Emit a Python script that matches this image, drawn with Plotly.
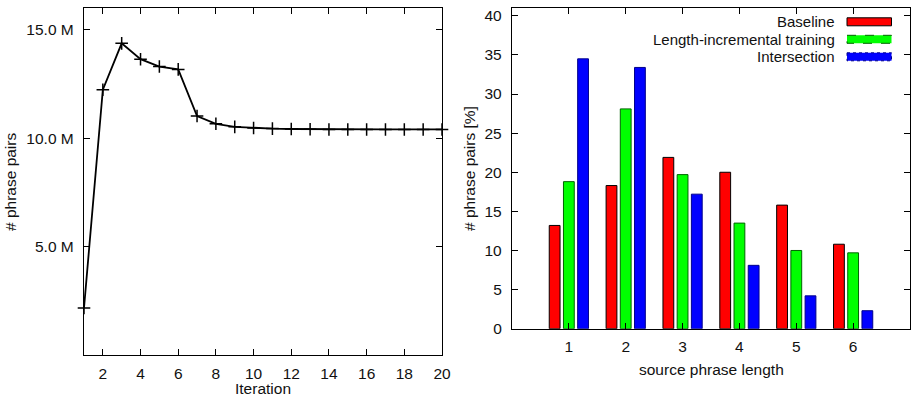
import plotly.graph_objects as go

W, H = 917, 398

# ---- data: left chart ----
iterations = list(range(1, 21))
phrase_pairs = [2.17e6, 12.23e6, 14.37e6, 13.64e6, 13.30e6, 13.17e6, 11.02e6, 10.66e6,
                10.52e6, 10.47e6, 10.44e6, 10.42e6, 10.41e6, 10.40e6, 10.40e6, 10.40e6,
                10.40e6, 10.40e6, 10.40e6, 10.40e6]
left_ytickvals = [5e6, 10e6, 15e6]
left_yticktext = ["5.0 M", "10.0 M", "15.0 M"]
left_xtickvals = list(range(2, 21, 2))

# ---- data: right chart ----
lengths = [1, 2, 3, 4, 5, 6]
series_names = ["Baseline", "Length-incremental training", "Intersection"]
baseline = [13.2, 18.3, 21.9, 20.0, 15.8, 10.8]
incremental = [18.8, 28.1, 19.7, 13.5, 10.0, 9.7]
intersection = [34.5, 33.4, 17.2, 8.1, 4.2, 2.3]
right_ytickvals = list(range(0, 41, 5))

FONT = "Liberation Sans, Arial, sans-serif"
FS = 15.5
LFS = 15
fill_colors = ["#ff0000", "#00ff00", "#0000ff"]
line_colors = ["#000000", "#006400", "#00008b"]

def px(x):
    return x / W

def py(y):
    return 1 - y / H

fig = go.Figure()

fig.add_trace(go.Scatter(
    x=iterations, y=phrase_pairs, mode="lines+markers",
    line=dict(color="black", width=1.8),
    marker=dict(symbol="cross-thin", size=9, line=dict(color="black", width=1.5)),
    cliponaxis=False, showlegend=False, xaxis="x", yaxis="y"))

for name, vals, fc, lc in zip(series_names, [baseline, incremental, intersection], fill_colors, line_colors):
    fig.add_trace(go.Bar(
        x=lengths, y=vals, name=name, marker=dict(color=fc, line=dict(color=lc, width=1)),
        showlegend=False, xaxis="x2", yaxis="y2"))

axis_common = dict(showline=True, linecolor="black", linewidth=1.3, mirror="ticks",
                   ticks="inside", ticklen=6, tickwidth=1, tickcolor="black",
                   showgrid=False, zeroline=False, automargin=False,
                   tickfont=dict(family=FONT, size=FS, color="#111"))

fig.update_layout(
    width=W, height=H, margin=dict(l=0, r=0, t=0, b=0),
    paper_bgcolor="white", plot_bgcolor="white", template="none",
    barmode="group", bargap=0.25, bargroupgap=0.24,
    xaxis=dict(domain=[px(84), px(442)], range=[1, 20], tickvals=left_xtickvals,
               anchor="y", ticklabelstandoff=4, **axis_common),
    yaxis=dict(domain=[py(355), py(8)], range=[0, 16e6], tickvals=left_ytickvals,
               ticktext=left_yticktext, anchor="x", ticklabelstandoff=6, **axis_common),
    xaxis2=dict(domain=[px(512), px(910)], range=[0, 7], tickvals=lengths,
                anchor="y2", ticklabelstandoff=4, **axis_common),
    yaxis2=dict(domain=[py(328.7), py(8)], range=[0, 41], tickvals=right_ytickvals,
                anchor="x2", ticklabelstandoff=6, **axis_common),
)

tfont = dict(family=FONT, size=FS, color="#111")
lfont = dict(family=FONT, size=LFS, color="#111")
annotations = [
    dict(text="Iteration", x=px(263), y=py(388), xref="paper", yref="paper",
         showarrow=False, font=tfont, xanchor="center", yanchor="middle"),
    dict(text="# phrase pairs", x=px(10), y=py(182), xref="paper", yref="paper",
         showarrow=False, font=tfont, textangle=-90, xanchor="center", yanchor="middle"),
    dict(text="source phrase length", x=px(711), y=py(369), xref="paper", yref="paper",
         showarrow=False, font=tfont, xanchor="center", yanchor="middle"),
    dict(text="# phrase pairs [%]", x=px(469), y=py(168), xref="paper", yref="paper",
         showarrow=False, font=tfont, textangle=-90, xanchor="center", yanchor="middle"),
]
shapes = []
legend_y = [21.8, 39.3, 56.8]
dashes = ["solid", "dash", "dot"]
for name, yy, fc, lc, d in zip(series_names, legend_y, fill_colors, line_colors, dashes):
    annotations.append(dict(text=name, x=px(837), y=py(yy), xref="paper", yref="paper",
                            showarrow=False, font=lfont, xanchor="right", yanchor="middle"))
    shapes.append(dict(type="rect", xref="paper", yref="paper",
                       x0=px(847), x1=px(891.5), y0=py(yy - 4), y1=py(yy + 4),
                       fillcolor=fc, line=dict(color=lc, width=1, dash=d)))

fig.update_layout(annotations=annotations, shapes=shapes)
fig.write_html("out.html")
